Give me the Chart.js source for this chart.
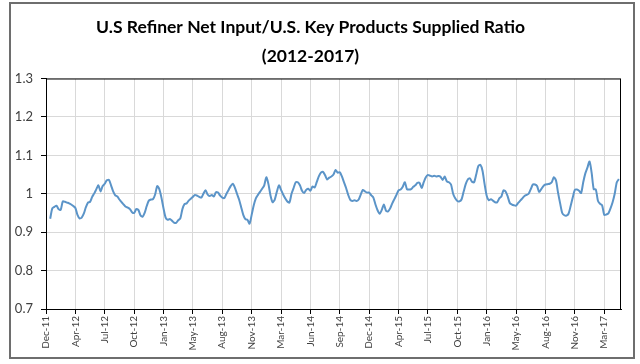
<!DOCTYPE html>
<html>
<head>
<meta charset="utf-8">
<script src="https://cdn.jsdelivr.net/npm/chart.js@4/dist/chart.umd.min.js"></script>
<style>
  body { margin: 0; background: #fff; }
  #wrap { position: relative; width: 640px; height: 364px; }
  #frame { position: absolute; left: 9px; top: 2px; width: 622px; height: 353px; border: 2px solid #6e6e6e; pointer-events: none; }
</style>
</head>
<body>
<div id="wrap">
  <canvas id="ratioChart" width="640" height="364"></canvas>
  <div id="frame"></div>
</div>
<script>
// tick labels along the bottom, one every 14 weekly points
const tickLabels = ['Dec-11', 'Apr-12', 'Jul-12', 'Oct-12', 'Jan-13', 'May-13', 'Aug-13', 'Nov-13', 'Mar-14', 'Jun-14',
                    'Sep-14', 'Dec-14', 'Apr-15', 'Jul-15', 'Oct-15', 'Jan-16', 'May-16', 'Aug-16', 'Nov-16', 'Mar-17'];
const weeksPerLabel = 14;
const firstWeek = 2;

// weekly ratio
const ratio = [
  0.935, 0.962, 0.966, 0.969, 0.960, 0.958, 0.980, 0.979, 0.977, 0.975, 0.972, 0.968, 0.963, 0.945, 0.936, 0.938,
  0.948, 0.965, 0.977, 0.979, 0.992, 1.001, 1.012, 1.022, 1.006, 1.020, 1.026, 1.035, 1.036, 1.022, 1.006, 0.996,
  0.993, 0.985, 0.978, 0.972, 0.966, 0.964, 0.960, 0.952, 0.950, 0.960, 0.958, 0.944, 0.940, 0.950, 0.968, 0.982,
  0.985, 0.986, 0.998, 1.020, 1.012, 0.990, 0.962, 0.938, 0.932, 0.934, 0.930, 0.925, 0.924, 0.931, 0.936, 0.960,
  0.973, 0.975, 0.982, 0.987, 0.992, 0.997, 0.995, 0.992, 0.990, 1.000, 1.009, 0.998, 0.994, 0.997, 0.993, 1.004,
  1.003, 0.995, 0.990, 0.989, 1.000, 1.010, 1.020, 1.026, 1.016, 1.000, 0.985, 0.965, 0.945, 0.934, 0.932, 0.922,
  0.945, 0.970, 0.988, 0.997, 1.005, 1.013, 1.022, 1.043, 1.025, 0.995, 0.978, 0.985, 1.005, 1.022, 1.010, 0.998,
  0.988, 0.980, 0.977, 1.000, 1.015, 1.030, 1.030, 1.022, 1.008, 1.002, 1.010, 1.013, 1.008, 1.019, 1.016, 1.030,
  1.045, 1.055, 1.057, 1.048, 1.037, 1.042, 1.045, 1.050, 1.062, 1.055, 1.056, 1.045, 1.030, 1.015, 0.997, 0.984,
  0.981, 0.983, 0.981, 0.985, 0.998, 1.010, 1.006, 1.003, 1.003, 0.996, 0.990, 0.972, 0.957, 0.948, 0.958, 0.972,
  0.956, 0.954, 0.962, 0.975, 0.986, 0.997, 1.009, 1.011, 1.018, 1.030, 1.012, 1.011, 1.012, 1.018, 1.022, 1.028,
  1.028, 1.015, 1.030, 1.043, 1.049, 1.047, 1.045, 1.047, 1.045, 1.046, 1.044, 1.036, 1.045, 1.032, 1.030, 1.024,
  1.000, 0.988, 0.981, 0.980, 0.985, 1.005, 1.025, 1.037, 1.040, 1.031, 1.030, 1.050, 1.072, 1.075, 1.060, 1.025,
  0.995, 0.983, 0.986, 0.982, 0.978, 0.978, 0.988, 0.993, 1.009, 1.006, 0.993, 0.976, 0.972, 0.970, 0.969, 0.976,
  0.982, 0.988, 0.994, 0.997, 1.000, 1.012, 1.024, 1.024, 1.020, 1.005, 1.012, 1.020, 1.024, 1.025, 1.026, 1.030,
  1.043, 1.035, 1.003, 0.975, 0.950, 0.944, 0.943, 0.948, 0.968, 0.990, 1.010, 1.011, 1.008, 1.002, 1.030, 1.053,
  1.068, 1.084, 1.055, 1.012, 1.011, 0.982, 0.974, 0.970, 0.945, 0.946, 0.949, 0.962, 0.978, 1.000, 1.030, 1.038
];

const yTicks = [0.7, 0.8, 0.9, 1, 1.1, 1.2, 1.3];

const points = ratio.map((v, i) => ({ x: firstWeek + i, y: v }));

// black box round the plot area, like the Excel plot border
const plotBorder = {
    id: 'plotBorder',
    afterDraw(chart) {
        const a = chart.chartArea;
        const ctx = chart.ctx;
        ctx.save();
        ctx.strokeStyle = '#000';
        ctx.lineWidth = 1;
        ctx.strokeRect(a.left + 0.5, a.top + 0.5, a.right - a.left - 1, a.bottom - a.top);
        ctx.restore();
    }
};

const ctx = document.getElementById('ratioChart').getContext('2d');
const ratioChart = new Chart(ctx, {
    type: 'line',
    data: {
        datasets: [{
            label: 'Ratio',
            data: points,
            borderColor: '#5b94c8',
            borderWidth: 2,
            pointRadius: 0,
            tension: 0.25,
            fill: false
        }]
    },
    options: {
        responsive: false,
        animation: false,
        layout: { padding: { left: 0, right: 19, top: 0, bottom: 0 } },
        plugins: {
            legend: { display: false },
            tooltip: { enabled: false },
            title: {
                display: true,
                text: ['U.S Refiner Net Input/U.S. Key Products Supplied Ratio', '(2012-2017)'],
                color: '#000',
                font: { family: 'Lato', size: 17.5, weight: 'bold', lineHeight: 1.7 },
                padding: { top: 12, bottom: 7 }
            }
        },
        scales: {
            x: {
                type: 'linear',
                min: 0,
                max: 274,
                afterBuildTicks: function (axis) {
                    axis.ticks = tickLabels.map((t, i) => ({ value: i * weeksPerLabel }));
                },
                afterFit: function (axis) { axis.height = 55; },
                grid: { color: '#d9d9d9', tickColor: '#000', tickLength: 5 },
                border: { color: '#000' },
                ticks: {
                    autoSkip: false,
                    maxRotation: 90,
                    minRotation: 90,
                    padding: 2,
                    color: '#404040',
                    font: { family: 'Lato', size: 10 },
                    callback: function (value, index) { return tickLabels[index]; }
                }
            },
            y: {
                min: 0.7,
                max: 1.3,
                afterBuildTicks: function (axis) {
                    axis.ticks = yTicks.map(v => ({ value: v }));
                },
                afterFit: function (axis) { axis.width = 46; },
                grid: { color: '#d9d9d9', tickColor: '#000', tickLength: 5 },
                border: { color: '#000' },
                ticks: {
                    padding: 8,
                    color: '#404040',
                    font: { family: 'Lato', size: 13 },
                    callback: function (value) { return String(Math.round(value * 10) / 10); }
                }
            }
        }
    },
    plugins: [plotBorder]
});
</script>
</body>
</html>
